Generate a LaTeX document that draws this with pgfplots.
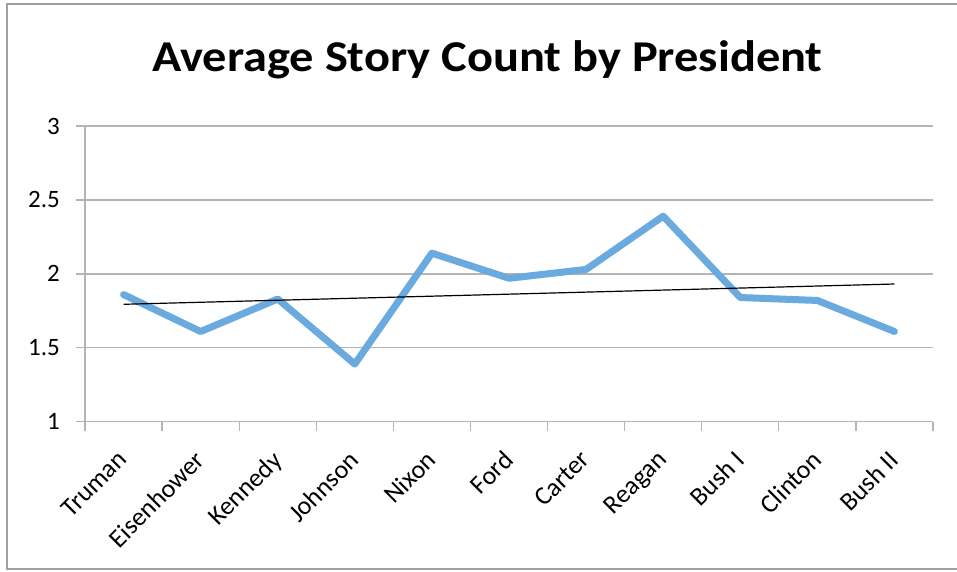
\documentclass[border=0pt]{standalone}
\usepackage{fontspec}
\setmainfont{Carlito}
\usepackage{pgfplots}
\usepackage{pgfplotstable}
\pgfplotsset{compat=1.18}

\definecolor{storyblue}{RGB}{106,170,222}
\definecolor{gridgray}{RGB}{180,180,180}
\definecolor{framegray}{RGB}{160,160,160}

% Average story count per administration (index, value)
\pgfplotstableread{
idx  avg
0    1.86
1    1.61
2    1.83
3    1.39
4    2.14
5    1.97
6    2.03
7    2.39
8    1.84
9    1.82
10   1.61
}\storydata

\begin{document}
\begin{tikzpicture}[x=1pt,y=1pt]
\path[use as bounding box] (0,0) rectangle (957,571);
% chart frame (open on the right)
\draw[framegray, line width=1.2pt] (957,567) -- (7,567) -- (7,2) -- (957,2);
% title
\node[font=\bfseries\fontsize{44}{50}\selectfont, anchor=base, inner sep=0pt] at (487.5,499.3)
  {\scalebox{1.1}[1]{Average Story Count by President}};
\begin{axis}[
  at={(85pt,149.3pt)}, anchor=south west,
  scale only axis, width=848pt, height=295.7pt,
  xmin=-0.5, xmax=10.5, ymin=1, ymax=3,
  axis x line*=bottom, axis y line*=left,
  axis line style={gridgray, line width=1.3pt, -},
  ytick={1,1.5,2,2.5,3},
  ymajorgrids, grid style={gridgray, line width=1.3pt},
  % category boundaries carry the tick marks
  xtick={-0.5,0.5,...,10.5},
  xticklabels={},
  % category names sit at the centres, without marks
  extra x ticks={0,...,10},
  extra x tick labels={Truman,Eisenhower,Kennedy,Johnson,Nixon,Ford,Carter,Reagan,Bush I,Clinton,Bush II},
  extra x tick style={tick style={draw=none}},
  tick style={gridgray, line width=1.3pt},
  tick align=outside, major tick length=9pt,
  xticklabel style={rotate=45, anchor=north east, font=\fontsize{26}{30}\selectfont, inner sep=0pt, yshift=-8pt, xshift=-18pt},
  yticklabel style={font=\fontsize{25}{29}\selectfont, anchor=east, inner sep=0pt, xshift=-16pt},
  /pgf/number format/assume math mode=true,
  clip=false,
]
\addplot[storyblue, line width=7pt, line join=round, line cap=round] table[x=idx, y=avg] {\storydata};
\addplot[black, line width=1.2pt] table[x=idx, y={create col/linear regression={y=avg}}] {\storydata};
\end{axis}
\end{tikzpicture}
\end{document}
